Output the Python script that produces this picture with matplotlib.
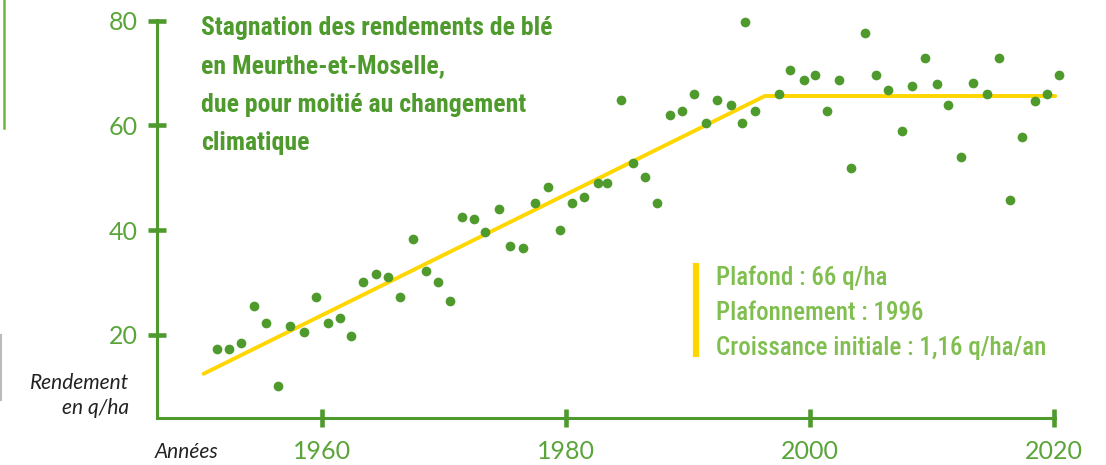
import matplotlib
matplotlib.use("Agg")
import matplotlib.pyplot as plt
from matplotlib.lines import Line2D
from matplotlib import font_manager as fm

# ---- data ----
annees = [1951.4, 1952.4, 1953.4, 1954.4, 1955.4, 1956.4, 1957.4, 1958.5, 1959.5, 1960.5,
          1961.5, 1962.4, 1963.4, 1964.4, 1965.4, 1966.4, 1967.5, 1968.5, 1969.5, 1970.5,
          1971.5, 1972.5, 1973.4, 1974.5, 1975.4, 1976.5, 1977.5, 1978.5, 1979.5, 1980.5,
          1981.5, 1982.6, 1983.4, 1984.5, 1985.5, 1986.5, 1987.5, 1988.5, 1989.5, 1990.5,
          1991.5, 1992.4, 1993.5, 1994.4, 1994.7, 1995.5, 1997.5, 1998.4, 1999.5, 2000.4,
          2001.4, 2002.4, 2003.4, 2004.5, 2005.4, 2006.4, 2007.5, 2008.4, 2009.4, 2010.4,
          2011.3, 2012.4, 2013.4, 2014.5, 2015.5, 2016.4, 2017.4, 2018.4, 2019.4, 2020.4]
rendements = [17.3, 17.3, 18.5, 25.5, 22.2, 10.3, 21.8, 20.6, 27.2, 22.2,
              23.2, 19.9, 30.2, 31.7, 31.1, 27.2, 38.3, 32.2, 30.2, 26.4,
              42.5, 42.1, 39.6, 44.1, 37.0, 36.6, 45.1, 48.2, 40.0, 45.1,
              46.3, 49.0, 49.0, 64.9, 52.9, 50.1, 45.1, 61.9, 62.8, 65.9,
              60.5, 64.9, 63.8, 60.5, 79.7, 62.8, 65.9, 70.6, 68.7, 69.7,
              62.8, 68.7, 51.9, 77.6, 69.7, 66.8, 58.9, 67.5, 72.9, 67.8,
              63.8, 54.0, 68.0, 65.9, 72.9, 45.7, 57.8, 64.6, 65.9, 69.7]
tendance_x = [1950.3, 1996.3, 2020.1]
tendance_y = [12.6, 65.6, 65.6]
x_ticks = [1960, 1980, 2000, 2020]
y_ticks = [20, 40, 60, 80]
titre = ["Stagnation des rendements de blé",
         "en Meurthe-et-Moselle,",
         "due pour moitié au changement",
         "climatique"]
infos = ["Plafond : 66 q/ha",
         "Plafonnement : 1996",
         "Croissance initiale : 1,16 q/ha/an"]

# ---- style ----
GREEN = "#4e9a2c"
GREEN_TXT = "#5aa53a"
GREEN_LIGHT = "#80bf4f"
YELLOW = "#ffd600"

installed = {f.name for f in fm.fontManager.ttflist}
cond_candidates = ["Roboto Condensed", "Noto Sans Condensed", "Open Sans Condensed",
                   "Liberation Sans Narrow", "DejaVu Sans Condensed", "Roboto"]
COND = [c for c in cond_candidates if c in installed] + ["DejaVu Sans"]

W, H = 1106, 465
fig = plt.figure(figsize=(W / 100, H / 100), dpi=100)

def fx(px):
    return px / W

def fy(py):
    return 1 - py / H

ax = fig.add_axes([fx(157), fy(418), fx(1055) - fx(157), fy(20) - fy(418)])
ax.set_xlim(1946.48, 2020.08)
ax.set_ylim(4.16, 80.1)

ax.plot(tendance_x, tendance_y, color=YELLOW, lw=2.8, solid_capstyle="round",
        solid_joinstyle="miter", zorder=2, clip_on=False)
ax.plot(annees, rendements, "o", color=GREEN, ms=7, mew=0, zorder=3, clip_on=False)

for s in ["top", "right"]:
    ax.spines[s].set_visible(False)
for s in ["left", "bottom"]:
    ax.spines[s].set_color(GREEN)
    ax.spines[s].set_linewidth(2.2)

ax.set_xticks(x_ticks)
ax.set_yticks(y_ticks)
ax.tick_params(axis="both", direction="inout", length=13.5, width=3.3, color=GREEN,
               labelcolor=GREEN_TXT, labelsize=18)
ax.tick_params(axis="x", pad=9)
ax.tick_params(axis="y", pad=7)
for lab in ax.get_xticklabels() + ax.get_yticklabels():
    lab.set_family(["Lato", "DejaVu Sans"])

# axis captions
cap_kw = dict(fontsize=15, style="italic", family=["Lato", "DejaVu Sans"], color="#222222")
fig.text(fx(129), fy(383), "Rendement", ha="right", va="center", **cap_kw)
fig.text(fx(129), fy(408), "en q/ha", ha="right", va="center", **cap_kw)
fig.text(fx(155), fy(452), "Années", ha="left", va="center", **cap_kw)

# title
for i, line in enumerate(titre):
    fig.text(fx(201), fy(35 + 38.3 * i), line, ha="left", va="baseline", fontsize=18.5,
             family=COND, fontstretch="condensed", fontweight="bold",
             color=GREEN)

# info box
fig.add_artist(Line2D([fx(695.5), fx(695.5)], [fy(263), fy(357)], color=YELLOW,
                      lw=4.5, transform=fig.transFigure, solid_capstyle="butt"))
for i, line in enumerate(infos):
    fig.text(fx(716), fy(285 + 35 * i), line, ha="left", va="baseline", fontsize=18,
             family=COND, fontstretch="condensed", fontweight="medium",
             color=GREEN_LIGHT)

# left page decoration
fig.add_artist(Line2D([fx(4), fx(4)], [fy(0), fy(128)], color="#6fb440", lw=1.8,
                      transform=fig.transFigure))
fig.add_artist(Line2D([fx(1), fx(1)], [fy(335), fy(400)], color="#bbbbbb", lw=1.5,
                      transform=fig.transFigure))

fig.savefig("out.png", dpi=100)
